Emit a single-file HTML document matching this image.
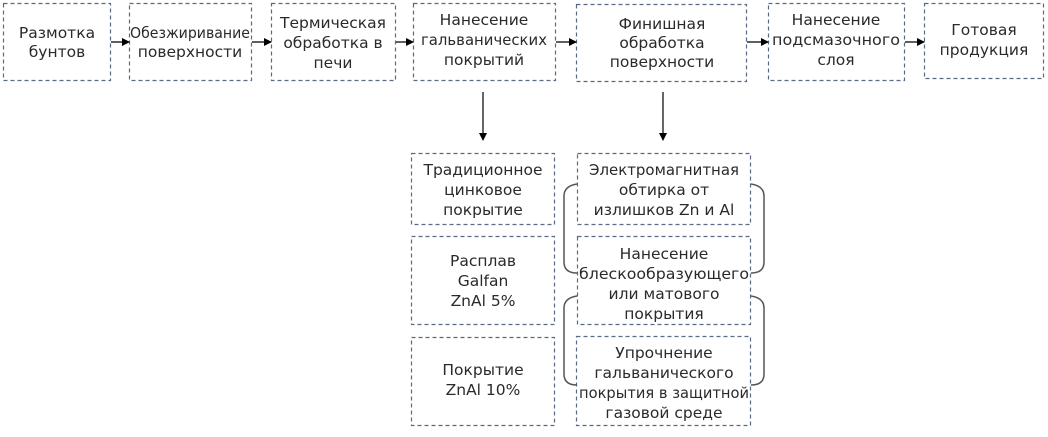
<!DOCTYPE html>
<html><head><meta charset="utf-8"><style>
html,body{margin:0;padding:0;background:#fff}
svg text{font-family:"DejaVu Sans","Liberation Sans",sans-serif;font-size:15.5px;fill:#2a2a2a;text-anchor:middle}
</style></head><body>
<svg width="1048" height="432" viewBox="0 0 1048 432" xmlns="http://www.w3.org/2000/svg">
<defs><marker id="a" markerWidth="8" markerHeight="8" refX="7" refY="4" orient="auto" markerUnits="userSpaceOnUse"><path d="M0,0 L8,4 L0,8 z" fill="#000"/></marker></defs>
<g fill="none" stroke="#5a6a85" stroke-width="1.2" stroke-dasharray="4,3">
<rect x="3.5" y="3.5" width="107" height="77"/>
<rect x="129.5" y="3.5" width="122" height="77"/>
<rect x="271.5" y="3.5" width="124" height="77"/>
<rect x="413.5" y="3.5" width="142" height="77"/>
<rect x="576.5" y="4.5" width="170" height="77"/>
<rect x="768.5" y="3.5" width="136" height="77"/>
<rect x="924.5" y="3.5" width="119" height="75"/>
<rect x="411.5" y="153.5" width="143" height="71"/>
<rect x="411.5" y="236.5" width="143" height="88"/>
<rect x="411.5" y="337.5" width="143" height="88"/>
<rect x="577.5" y="153.5" width="173" height="71"/>
<rect x="577.5" y="236.5" width="173" height="88"/>
<rect x="576.5" y="336.5" width="174" height="89"/>
</g>
<g stroke="#000" stroke-width="1.2" marker-end="url(#a)">
<line x1="111" y1="42" x2="129" y2="42"/>
<line x1="252" y1="42" x2="271" y2="42"/>
<line x1="396" y1="42" x2="413" y2="42"/>
<line x1="556" y1="42" x2="576" y2="42"/>
<line x1="747" y1="42" x2="768" y2="42"/>
<line x1="905" y1="42" x2="924" y2="42"/>
<line x1="483" y1="92" x2="483" y2="140"/>
<line x1="663" y1="92" x2="663" y2="140"/>
</g>
<g fill="none" stroke="#555" stroke-width="1.5">
<path d="M577,184 Q564,186 564,196 L564,262 Q564,273 577,273"/>
<path d="M751,184 Q764,186 764,196 L764,262 Q764,273 751,273"/>
<path d="M577,296 Q564,298 564,308 L564,374 Q564,385 577,385"/>
<path d="M751,296 Q764,298 764,308 L764,374 Q764,385 751,385"/>
</g>
<text x="57" y="38">Размотка</text><text x="57" y="57">бунтов</text>
<text x="190" y="38" textLength="120" lengthAdjust="spacingAndGlyphs">Обезжиривание</text><text x="190" y="57">поверхности</text>
<text x="333" y="28">Термическая</text><text x="333" y="48">обработка в</text><text x="333" y="68">печи</text>
<text x="484" y="25">Нанесение</text><text x="484" y="45" textLength="126" lengthAdjust="spacingAndGlyphs">гальванических</text><text x="484" y="65">покрытий</text>
<text x="662" y="29">Финишная</text><text x="662" y="48">обработка</text><text x="662" y="67">поверхности</text>
<text x="836" y="25">Нанесение</text><text x="836" y="45" textLength="128" lengthAdjust="spacingAndGlyphs">подсмазочного</text><text x="836" y="65">слоя</text>
<text x="984" y="35">Готовая</text><text x="984" y="55">продукция</text>
<text x="483" y="175">Традиционное</text><text x="483" y="195">цинковое</text><text x="483" y="215">покрытие</text>
<text x="483" y="266">Расплав</text><text x="483" y="286">Galfan</text><text x="483" y="306">ZnAl 5%</text>
<text x="483" y="375">Покрытие</text><text x="483" y="395">ZnAl 10%</text>
<text x="664" y="175" textLength="150" lengthAdjust="spacingAndGlyphs">Электромагнитная</text><text x="664" y="195">обтирка от</text><text x="664" y="215">излишков Zn и Al</text>
<text x="664" y="259">Нанесение</text><text x="664" y="279" textLength="170" lengthAdjust="spacingAndGlyphs">блескообразующего</text><text x="664" y="299">или матового</text><text x="664" y="319">покрытия</text>
<text x="664" y="358">Упрочнение</text><text x="664" y="378">гальванического</text><text x="664" y="398" textLength="170" lengthAdjust="spacingAndGlyphs">покрытия в защитной</text><text x="664" y="418">газовой среде</text>
</svg>
</body></html>
